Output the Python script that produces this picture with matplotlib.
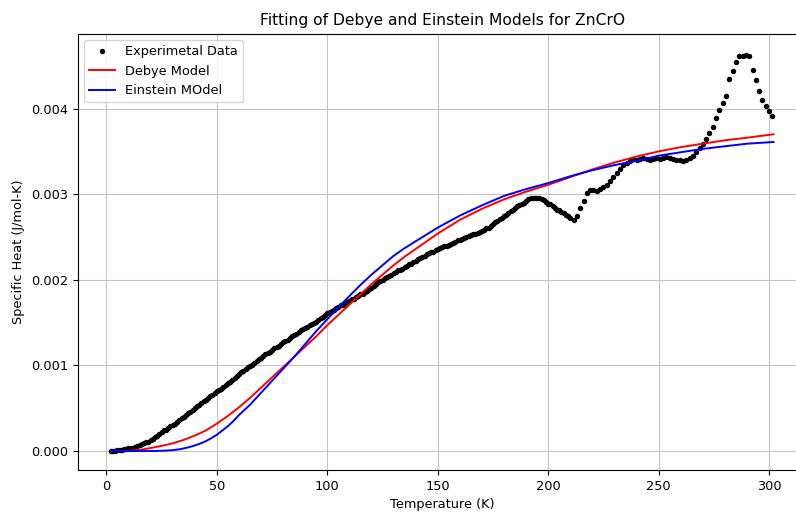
import matplotlib
matplotlib.use("Agg")
import matplotlib.pyplot as plt

# experimental points, T in K and C in units of 1e-3 J/mol-K
temp_exp = [2, 3, 4, 5, 6, 7, 8, 9, 10, 11, 12, 13, 14, 15, 16, 17, 18, 19, 20, 21,
            22, 23, 24, 25, 26, 27, 28, 29, 30, 31, 32, 33, 34, 35, 36, 37, 38, 39, 40, 41,
            42, 43, 44, 45, 46, 47, 48, 49, 50, 51, 52, 53, 54, 55, 56, 57, 58, 59, 60, 61,
            62, 63, 64, 65, 66, 67, 68, 69, 70, 71, 72, 73, 74, 75, 76, 77, 78, 79, 80, 81,
            82, 83, 84, 85, 86, 87, 88, 89, 90, 91, 92, 93, 94, 95, 96, 97, 98, 99, 100, 101,
            102, 103, 104, 105, 106, 107, 108, 109, 110, 111, 112, 113, 114, 115, 116, 117, 118, 119, 120, 121,
            122, 123, 124, 125, 126, 127, 128, 129, 130, 131, 132, 133, 134, 135, 136, 137, 138, 139, 140, 141,
            142, 143, 144, 145, 146, 147, 148, 149, 150, 151, 152, 153, 154, 155, 156, 157, 158, 159, 160, 161,
            162, 163, 164, 165, 166, 167, 168, 169, 170, 171, 172, 173, 174, 175, 176, 177, 178, 179, 180, 181,
            182, 183, 184, 185, 186, 187, 188, 189, 190, 191, 192, 193, 194, 195, 196, 197, 198, 199, 200, 201,
            202, 203, 204, 205, 206, 207, 208, 209, 210,
            211.5, 213, 214.5, 216, 217.5, 219, 220.5, 222, 223.5, 225, 226.5,
            228, 229.5, 231, 232.5, 234, 235.5, 237, 238.5, 240, 241.5, 243, 244.5, 246, 247.5, 249, 250.5,
            252, 253.5, 255, 256.5, 258, 259.5, 261, 262.5, 264, 265.5, 267, 268.5, 270, 271.5, 273, 274.5,
            276, 277.5, 279, 280.5, 282, 283.5, 285, 286.5, 288, 289.5, 291, 292.5, 294, 295.5, 297, 298.5,
            300, 301.5]
cp_exp = [0.00, 0.00, 0.00, 0.01, 0.01, 0.01, 0.02, 0.02, 0.03, 0.03, 0.04, 0.05, 0.06, 0.07, 0.08, 0.09, 0.10, 0.11, 0.13, 0.14,
          0.16, 0.18, 0.20, 0.22, 0.24, 0.25, 0.27, 0.29, 0.30, 0.32, 0.34, 0.36, 0.38, 0.40, 0.42, 0.44, 0.46, 0.48, 0.50, 0.52,
          0.54, 0.56, 0.58, 0.60, 0.62, 0.64, 0.66, 0.68, 0.70, 0.71, 0.73, 0.75, 0.77, 0.79, 0.81, 0.83, 0.85, 0.88, 0.90, 0.92,
          0.94, 0.96, 0.98, 0.99, 1.01, 1.03, 1.05, 1.07, 1.09, 1.11, 1.13, 1.14, 1.16, 1.18, 1.20, 1.21, 1.23, 1.25, 1.27, 1.28,
          1.30, 1.32, 1.34, 1.35, 1.37, 1.39, 1.41, 1.42, 1.44, 1.45, 1.47, 1.48, 1.50, 1.51, 1.53, 1.55, 1.57, 1.59, 1.61, 1.62,
          1.64, 1.65, 1.67, 1.68, 1.70, 1.71, 1.72, 1.74, 1.75, 1.77, 1.78, 1.80, 1.81, 1.83, 1.84, 1.86, 1.87, 1.89, 1.91, 1.93,
          1.95, 1.97, 1.99, 2.00, 2.02, 2.03, 2.05, 2.06, 2.08, 2.09, 2.11, 2.12, 2.13, 2.15, 2.16, 2.18, 2.19, 2.21, 2.22, 2.24,
          2.25, 2.27, 2.28, 2.30, 2.31, 2.32, 2.33, 2.35, 2.36, 2.37, 2.38, 2.39, 2.40, 2.41, 2.42, 2.43, 2.44, 2.46, 2.47, 2.48,
          2.49, 2.50, 2.51, 2.52, 2.53, 2.54, 2.55, 2.56, 2.57, 2.58, 2.60, 2.61, 2.63, 2.65, 2.67, 2.69, 2.71, 2.72, 2.74, 2.76,
          2.78, 2.80, 2.82, 2.84, 2.86, 2.87, 2.89, 2.90, 2.92, 2.94, 2.95, 2.96, 2.96, 2.96, 2.95, 2.94, 2.93, 2.91, 2.89, 2.88,
          2.86, 2.84, 2.82, 2.81, 2.79, 2.78, 2.76, 2.74, 2.72,
          2.70, 2.75, 2.84, 2.92, 3.01, 3.05, 3.05, 3.04, 3.06, 3.08, 3.11,
          3.15, 3.20, 3.25, 3.30, 3.34, 3.37, 3.39, 3.41, 3.40, 3.41, 3.42, 3.41, 3.40, 3.41, 3.42, 3.41,
          3.42, 3.43, 3.42, 3.41, 3.40, 3.40, 3.39, 3.40, 3.42, 3.45, 3.49, 3.54, 3.59, 3.65, 3.71, 3.79,
          3.89, 3.98, 4.06, 4.15, 4.35, 4.44, 4.55, 4.61, 4.61, 4.63, 4.61, 4.45, 4.33, 4.21, 4.10, 4.03,
          3.97, 3.91]

# fitted model curves
temp_fit = [2, 5, 10, 15, 20, 22.5, 25, 27.5, 30, 32.5, 35, 37.5, 40, 42.5, 45, 47.5, 50, 52.5, 55, 57.5,
            60, 62.5, 65, 67.5, 70, 75, 80, 85, 90, 95, 100, 105, 110, 115, 120, 125, 130, 135, 140, 145,
            150, 160, 170, 180, 190, 200, 210, 220, 230, 240, 250, 260, 270, 280, 290, 302]
cp_debye = [0.0, 0.0, 0.003, 0.012, 0.035, 0.047, 0.06, 0.075, 0.09, 0.11, 0.13, 0.155, 0.18, 0.21, 0.24, 0.28, 0.32, 0.365, 0.41, 0.46,
            0.51, 0.565, 0.62, 0.68, 0.74, 0.86, 0.98, 1.10, 1.22, 1.34, 1.47, 1.59, 1.71, 1.83, 1.95, 2.06, 2.17, 2.27, 2.36, 2.45,
            2.54, 2.70, 2.83, 2.94, 3.03, 3.11, 3.20, 3.29, 3.37, 3.44, 3.50, 3.55, 3.59, 3.63, 3.66, 3.70]
cp_einstein = [0.0, 0.0, 0.0, 0.0, 0.0, 0.001, 0.003, 0.006, 0.01, 0.018, 0.03, 0.045, 0.065, 0.087, 0.115, 0.15, 0.19, 0.24, 0.29, 0.35,
               0.42, 0.48, 0.54, 0.61, 0.68, 0.82, 0.96, 1.10, 1.25, 1.40, 1.54, 1.68, 1.81, 1.94, 2.06, 2.17, 2.28, 2.37, 2.45, 2.53,
               2.61, 2.75, 2.87, 2.98, 3.06, 3.13, 3.21, 3.28, 3.34, 3.39, 3.45, 3.49, 3.53, 3.56, 3.59, 3.61]

scale = 1e-3
fs = 9.3

fig = plt.figure(figsize=(7.96, 5.12), dpi=100)
ax = fig.add_axes([0.0976, 0.082, 0.9158, 0.8525])

ax.plot(temp_exp, [c * scale for c in cp_exp], 'k.', markersize=5.8, label='Experimetal Data')
ax.plot(temp_fit, [c * scale for c in cp_debye], color='red', lw=1.4, label='Debye Model')
ax.plot(temp_fit, [c * scale for c in cp_einstein], color='blue', lw=1.4, label='Einstein MOdel')

ax.set_xlim(-13, 317)
ax.set_ylim(-0.000222, 0.004877)
ax.set_xticks([0, 50, 100, 150, 200, 250, 300])
ax.set_yticks([0.000, 0.001, 0.002, 0.003, 0.004])
ax.set_yticklabels(['0.000', '0.001', '0.002', '0.003', '0.004'])
ax.tick_params(labelsize=fs)
ax.grid(True, color='#c4c4c4', lw=0.8)

ax.set_title('Fitting of Debye and Einstein Models for ZnCrO', fontsize=11.2)
ax.set_xlabel('Temperature (K)', fontsize=fs)
ax.set_ylabel('Specific Heat (J/mol-K)', fontsize=fs)
ax.legend(loc='upper left', fontsize=fs)

fig.savefig('out.png', dpi=100)
